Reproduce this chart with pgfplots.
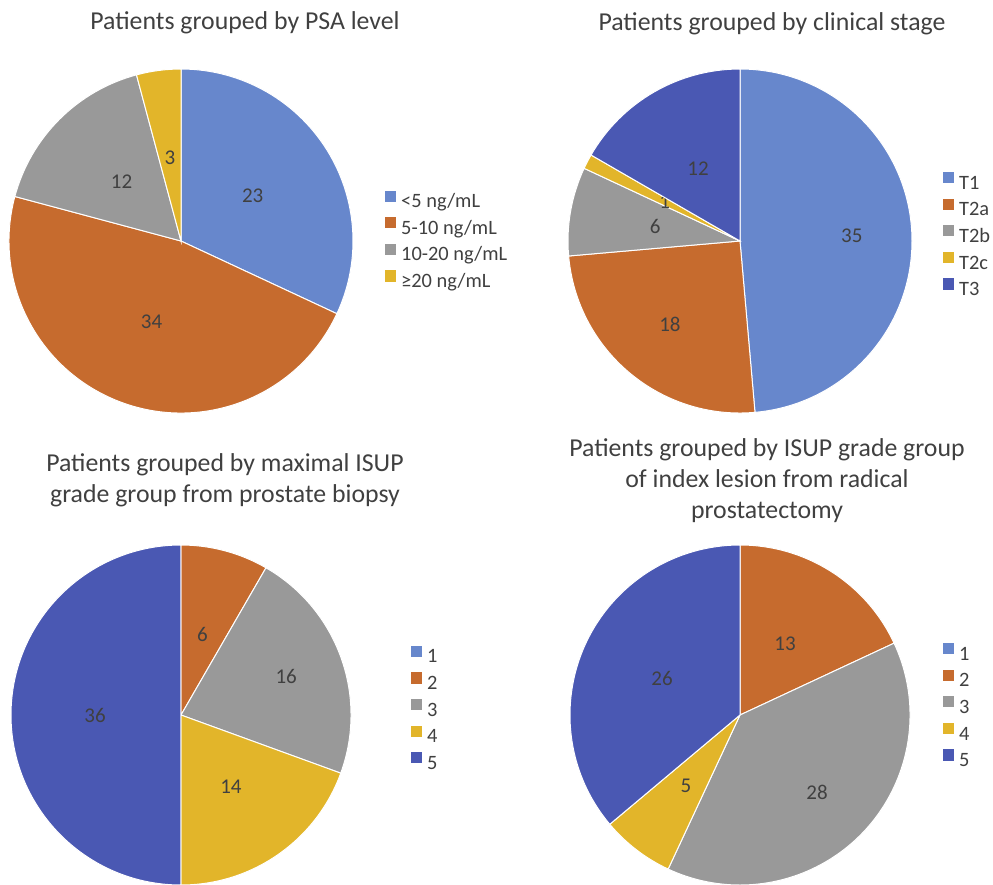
\documentclass[border=0pt]{standalone}
\usepackage{fontspec}
\setmainfont{Carlito}
\usepackage{pgfplots}
\pgfplotsset{compat=1.18}
\usepackage{pgfplotstable}

\definecolor{pc0}{HTML}{6787CC}
\definecolor{pc1}{HTML}{C66B2E}
\definecolor{pc2}{HTML}{999999}
\definecolor{pc3}{HTML}{E2B52A}
\definecolor{pc4}{HTML}{4A58B3}
\definecolor{txt}{HTML}{404040}

% n = number of patients, lr = label distance from centre (px)
\pgfplotstableread{
n lr
23 85
34 86
12 84
3 84
}\psa

\pgfplotstableread{
n lr
35 112
18 109
6 86
1 85
12 84
}\stage

\pgfplotstableread{
n lr
0 84
6 83
16 112
14 87
36 86
}\biopsy

\pgfplotstableread{
n lr
0 84
13 84
28 109
5 89
26 86
}\rp

\pgfplotsset{
  pie/.style={hide axis, clip=false, x=0.5pt, y=0.5pt,
    xmin=-#1, xmax=#1, ymin=-#1, ymax=#1, anchor=origin,
    legend cell align=left,
    legend image code/.code={\fill[##1, draw=none] (0pt,0.5pt) rectangle (5.6pt,6.1pt);},
    legend style={draw=none, fill=none, inner sep=0pt, outer sep=0pt,
      anchor=west, font=\fontsize{10.2}{12}\selectfont, text=txt,
      row sep=1.7pt,
      nodes={inner sep=1pt, text height=7pt, text depth=2pt},
      /tikz/every odd column/.append style={column sep=1.5pt}},
  },
}
\tikzset{labelstyle/.style={font=\fontsize{10.5}{12}\selectfont, text=txt, inner sep=0pt}}

\newcommand{\drawpie}[3]{%
  \def\curang{90}%
  \def\tot{0}%
  \pgfplotsforeachungrouped \i in {0,...,#3}{%
    \pgfplotstablegetelem{\i}{n}\of{#1}%
    \pgfmathsetmacro\tot{\tot+\pgfplotsretval}%
  }%
  \pgfplotsforeachungrouped \i in {0,...,#3}{%
    \pgfplotstablegetelem{\i}{n}\of{#1}\let\val\pgfplotsretval
    \pgfplotstablegetelem{\i}{lr}\of{#1}\let\lr\pgfplotsretval
    \pgfmathsetmacro\endang{\curang-360*\val/\tot}%
    \pgfmathsetmacro\midang{(\curang+\endang)/2}%
    \pgfmathsetmacro\sx{#2*cos(\curang)}%
    \pgfmathsetmacro\sy{#2*sin(\curang)}%
    \pgfmathsetmacro\lx{\lr*cos(\midang)}%
    \pgfmathsetmacro\ly{\lr*sin(\midang)}%
    \pgfmathsetmacro\rpt{#2*0.5}%
    \ifnum\val>0
      \edef\temp{\noexpand\fill[pc\i, draw=white, line width=0.5pt] (axis cs:0,0) -- (axis cs:\sx,\sy) arc[start angle=\curang, end angle=\endang, radius=\rpt pt] -- cycle;
      \noexpand\node[labelstyle] at (axis cs:\lx,\ly) {\val};}%
      \temp
    \fi
    \let\curang\endang
  }%
}

\begin{document}
\begin{tikzpicture}
\path[use as bounding box] (0,0) rectangle (496.5pt,-442.5pt);

\tikzset{ttl/.style={font=\fontsize{12.9}{15.5}\selectfont, text=txt, align=center, inner sep=0pt}}
\node[ttl] at (122.5pt,-11.5pt) {Patients grouped by PSA level};
\node[ttl] at (386pt,-11.75pt) {Patients grouped by clinical stage};
\node[ttl] at (112.5pt,-240.25pt) {Patients grouped by maximal ISUP\\grade group from prostate biopsy};
\node[ttl] at (383.5pt,-240.25pt) {Patients grouped by ISUP grade group\\of index lesion from radical\\prostatectomy};

\begin{axis}[pie=172, at={(90.5pt,-120.5pt)}, legend style={at={(1.093,0.497)}}]
\drawpie{\psa}{172}{3}
\addlegendimage{fill=pc0}\addlegendentry{<5 ng/mL}
\addlegendimage{fill=pc1}\addlegendentry{5-10 ng/mL}
\addlegendimage{fill=pc2}\addlegendentry{10-20 ng/mL}
\addlegendimage{fill=pc3}\addlegendentry{≥20 ng/mL}
\end{axis}

\begin{axis}[pie=172, at={(370pt,-120.5pt)}, legend style={at={(1.090,0.512)}}]
\drawpie{\stage}{172}{4}
\addlegendimage{fill=pc0}\addlegendentry{T1}
\addlegendimage{fill=pc1}\addlegendentry{T2a}
\addlegendimage{fill=pc2}\addlegendentry{T2b}
\addlegendimage{fill=pc3}\addlegendentry{T2c}
\addlegendimage{fill=pc4}\addlegendentry{T3}
\end{axis}

\begin{axis}[pie=170, at={(90.5pt,-357.5pt)}, legend style={at={(1.176,0.513)}}]
\drawpie{\biopsy}{170}{4}
\addlegendimage{fill=pc0}\addlegendentry{1}
\addlegendimage{fill=pc1}\addlegendentry{2}
\addlegendimage{fill=pc2}\addlegendentry{3}
\addlegendimage{fill=pc3}\addlegendentry{4}
\addlegendimage{fill=pc4}\addlegendentry{5}
\end{axis}

\begin{axis}[pie=170, at={(370pt,-357.5pt)}, legend style={at={(1.097,0.521)}}]
\drawpie{\rp}{170}{4}
\addlegendimage{fill=pc0}\addlegendentry{1}
\addlegendimage{fill=pc1}\addlegendentry{2}
\addlegendimage{fill=pc2}\addlegendentry{3}
\addlegendimage{fill=pc3}\addlegendentry{4}
\addlegendimage{fill=pc4}\addlegendentry{5}
\end{axis}
\end{tikzpicture}
\end{document}
